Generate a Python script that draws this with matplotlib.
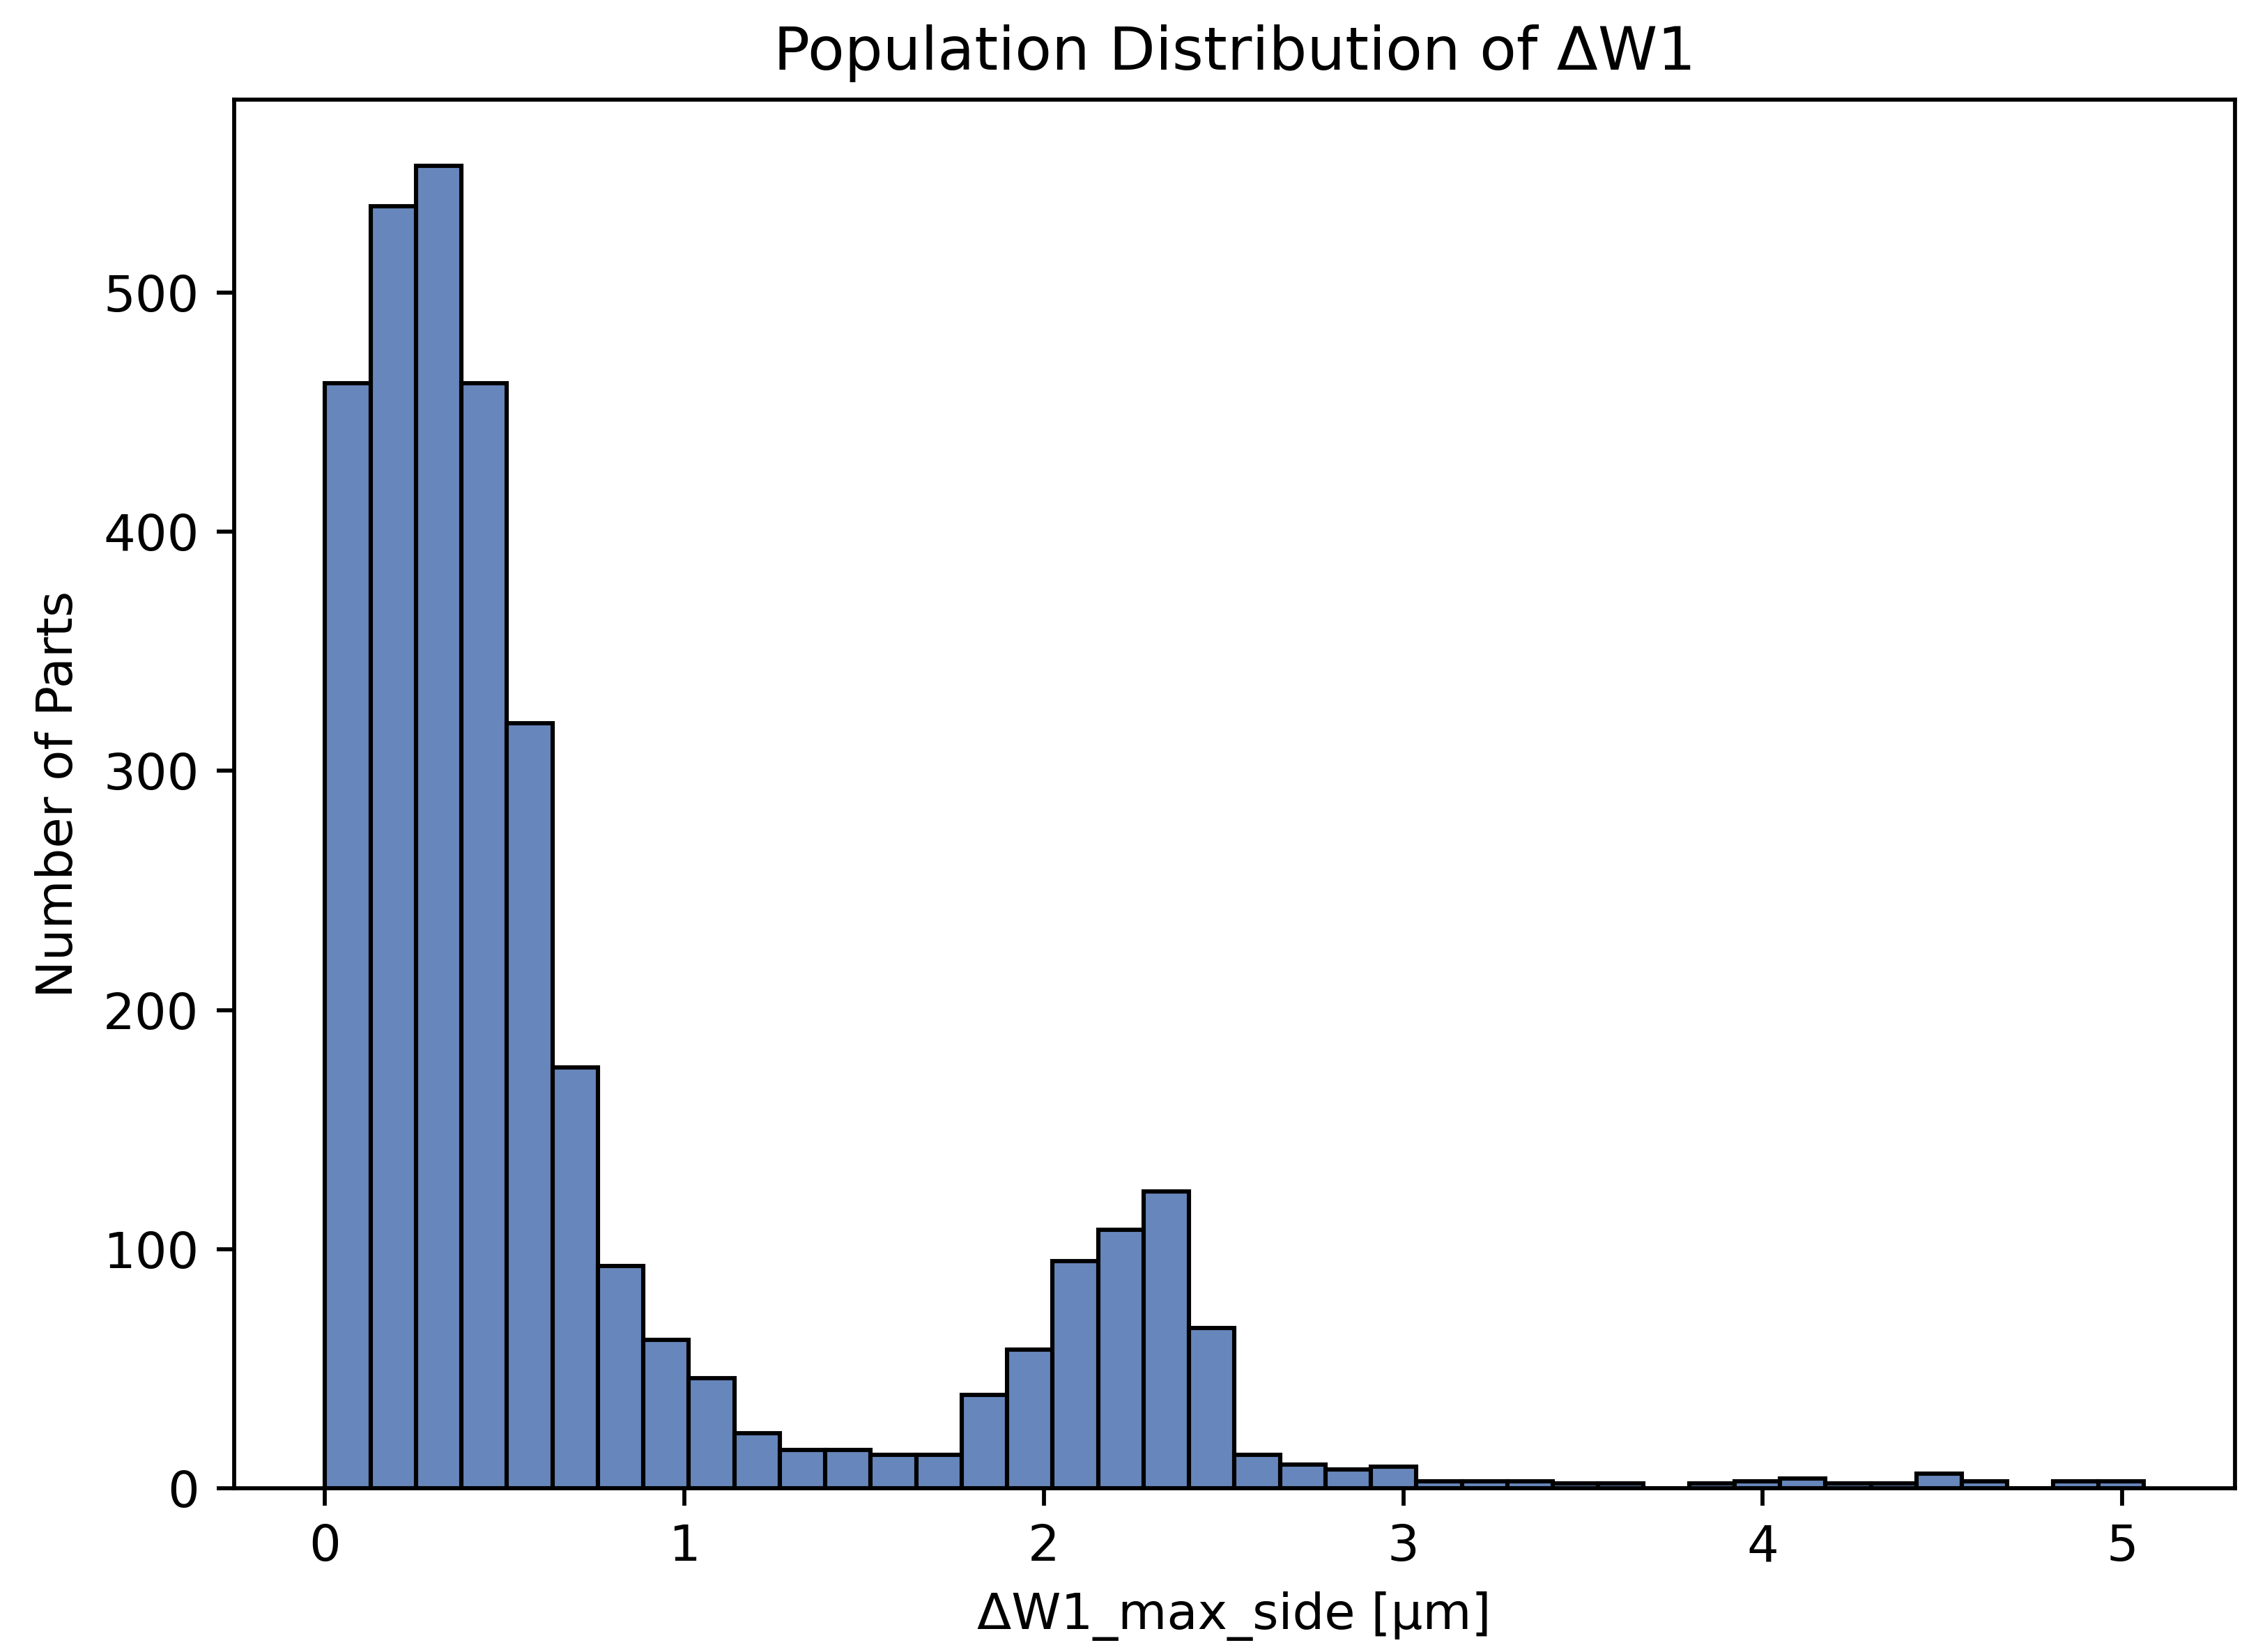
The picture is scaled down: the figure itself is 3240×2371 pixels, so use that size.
import numpy as np
import matplotlib
matplotlib.use("Agg")
import matplotlib.pyplot as plt


# histogram: 40 bins from 0 to ~5.06
bin_lo, bin_hi, n_bins = 0.0, 5.06, 40
counts = [462, 536, 553, 462, 320, 176, 93, 62, 46, 23,
          16, 16, 14, 14, 39, 58, 95, 108, 124, 67,
          14, 10, 8, 9, 3, 3, 3, 2, 2, 0,
          2, 3, 4, 2, 2, 6, 3, 0, 3, 3]

title = "Population Distribution of \u0394W1"
x_label = "\u0394W1_max_side [\u03bcm]"
y_label = "Number of Parts"

edges = np.linspace(bin_lo, bin_hi, n_bins + 1)
centers = (edges[:-1] + edges[1:]) / 2

dpi = 518.4
fig = plt.figure(figsize=(3240 / dpi, 2371 / dpi), dpi=dpi)
ax = fig.add_axes([0.1037, 0.0991, 0.8860, 0.8406])

ax.hist(centers, bins=edges, weights=counts,
        color="#6787bc", edgecolor="black", linewidth=0.85)

ax.set_title(title)
ax.set_xlabel(x_label)
ax.set_ylabel(y_label)

fig.savefig("out.png", dpi=dpi)
